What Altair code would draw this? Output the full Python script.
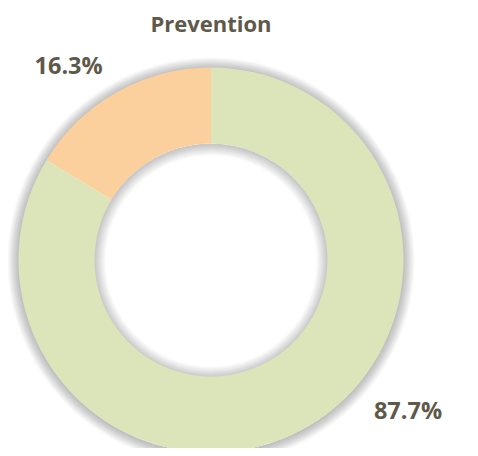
import math
import altair as alt
import pandas as pd

# ---- data ----
categories = ["Main share", "Other share"]
values = [83.7, 16.3]          # angular share of each slice
label_texts = ["87.7%", "16.3%"]
slice_order = [0, 1]
colors = ["#DCE4BA", "#FBD09C"]
title_text = "Prevention"

df = pd.DataFrame({"cat": categories, "value": values,
                   "label": label_texts, "order": slice_order})

FONT = "Open Sans"
TXT = "#5E5948"
CX, CY = 203, 252
R_OUT, R_IN = 192.5, 116.5
total = sum(values)
theta_scale = alt.Scale(domain=[0, total])

layers = []

# soft shadow around the ring (outer and inner edges)
one = pd.DataFrame({"k": [0]})
for k in range(1, 12):
    layers.append(
        alt.Chart(one).mark_arc(theta=0, theta2=2 * math.pi, radius=R_OUT + k,
                                radius2=R_OUT - 1, color="black", opacity=0.022)
        .encode(x=alt.value(CX), y=alt.value(CY + 1))
    )
    layers.append(
        alt.Chart(one).mark_arc(theta=0, theta2=2 * math.pi, radius=R_IN + 1,
                                radius2=R_IN - k, color="black", opacity=0.018)
        .encode(x=alt.value(CX), y=alt.value(CY + 1))
    )

donut = alt.Chart(df).mark_arc(radius=R_OUT, radius2=R_IN).encode(
    theta=alt.Theta("value:Q", stack=True, scale=theta_scale),
    color=alt.Color("cat:N", scale=alt.Scale(domain=categories, range=colors), legend=None),
    order=alt.Order("order:Q"),
    x=alt.value(CX), y=alt.value(CY),
)
layers.append(donut)

base = alt.Chart(df).transform_stack(
    stack="value", groupby=[], as_=["v0", "v1"], sort=[alt.SortField("order")]
).transform_calculate(mid="(datum.v0 + datum.v1) / 2")

lab_style = dict(font=FONT, fontSize=23.5, fontWeight="bold", color=TXT,
                 align="center", baseline="middle")

label_main = base.transform_filter("datum.order == 0").mark_text(
    radius=249, thetaOffset=-0.4007, **lab_style
).encode(theta=alt.Theta("mid:Q", scale=theta_scale, stack=None),
         text="label:N", x=alt.value(CX), y=alt.value(CY))

label_other = base.transform_filter("datum.order == 1").mark_text(
    radius=240, thetaOffset=-0.123, **lab_style
).encode(theta=alt.Theta("mid:Q", scale=theta_scale, stack=None),
         text="label:N", x=alt.value(CX), y=alt.value(CY))

layers += [label_main, label_other]

title = alt.Chart(pd.DataFrame({"t": [title_text]})).mark_text(
    font=FONT, fontSize=22, fontWeight="bold", color=TXT,
    align="center", baseline="alphabetic"
).encode(text="t:N", x=alt.value(CX), y=alt.value(23.5))
layers.append(title)

chart = alt.layer(*layers).properties(
    width=462, height=440, padding=0,
    autosize=alt.AutoSizeParams(type="none"),
).configure_view(stroke=None)

chart.save("out.html", embed_options={"renderer": "svg", "actions": False})
